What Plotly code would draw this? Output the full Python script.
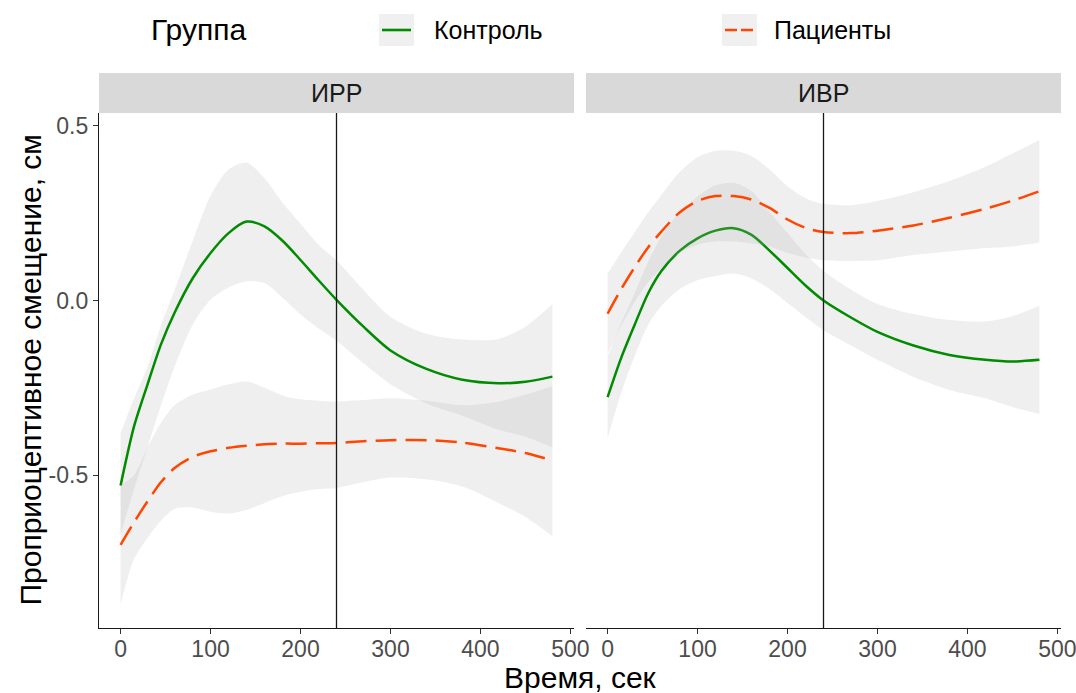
import plotly.graph_objects as go

# ---------------- data ----------------
time_sec = [0, 15, 30, 45, 60, 80, 100, 120, 140, 160, 180, 200, 220, 240,
            270, 300, 340, 380, 420, 450, 480]

panel_names = ["ИРР", "ИВР"]
group_names = ["Контроль", "Пациенты"]

# Panel ИРР, group Контроль
irr_ctrl_mean = [-0.53, -0.36, -0.24, -0.125, -0.035, 0.063, 0.136, 0.193, 0.226, 0.212,
                 0.171, 0.116, 0.058, 0.002, -0.075, -0.143, -0.196, -0.227, -0.237, -0.233, -0.218]
irr_ctrl_upper = [-0.38, -0.28, -0.19, -0.07, 0.03, 0.17, 0.30, 0.375, 0.395, 0.35,
                  0.28, 0.22, 0.16, 0.115, 0.03, -0.047, -0.095, -0.112, -0.11, -0.075, -0.01]
irr_ctrl_lower = [-0.67, -0.54, -0.42, -0.30, -0.19, -0.07, 0.002, 0.037, 0.055, 0.05,
                  0.008, -0.04, -0.08, -0.115, -0.18, -0.24, -0.295, -0.33, -0.37, -0.39, -0.42]

# Panel ИРР, group Пациенты
irr_pat_mean = [-0.70, -0.635, -0.575, -0.52, -0.48, -0.448, -0.432, -0.422, -0.416, -0.412,
                -0.41, -0.41, -0.409, -0.408, -0.403, -0.40, -0.40, -0.407, -0.423, -0.437, -0.458]
irr_pat_upper = [-0.53, -0.50, -0.42, -0.35, -0.30, -0.27, -0.255, -0.24, -0.232, -0.25,
                 -0.272, -0.283, -0.287, -0.289, -0.285, -0.28, -0.287, -0.30, -0.29, -0.27, -0.245]
irr_pat_lower = [-0.87, -0.74, -0.68, -0.63, -0.597, -0.593, -0.605, -0.61, -0.60, -0.58,
                 -0.56, -0.548, -0.54, -0.537, -0.52, -0.507, -0.512, -0.533, -0.58, -0.62, -0.675]

# Panel ИВР, group Контроль
ivr_ctrl_mean = [-0.277, -0.165, -0.07, 0.02, 0.085, 0.142, 0.178, 0.20, 0.207, 0.188,
                 0.143, 0.093, 0.043, 0.0, -0.048, -0.09, -0.129, -0.156, -0.17, -0.175, -0.17]
ivr_ctrl_upper = [-0.16, -0.065, 0.02, 0.11, 0.185, 0.252, 0.298, 0.33, 0.337, 0.313,
                  0.253, 0.193, 0.133, 0.085, 0.032, -0.01, -0.039, -0.056, -0.06, -0.045, -0.015]
ivr_ctrl_lower = [-0.394, -0.265, -0.16, -0.07, -0.015, 0.032, 0.058, 0.07, 0.077, 0.063,
                  0.033, -0.007, -0.047, -0.085, -0.128, -0.17, -0.219, -0.256, -0.28, -0.305, -0.325]

# Panel ИВР, group Пациенты
ivr_pat_mean = [-0.038, 0.032, 0.095, 0.152, 0.198, 0.252, 0.285, 0.299, 0.299, 0.289,
                0.265, 0.232, 0.208, 0.196, 0.193, 0.20, 0.215, 0.237, 0.263, 0.286, 0.313]
ivr_pat_upper = [0.077, 0.137, 0.195, 0.252, 0.303, 0.367, 0.41, 0.429, 0.429, 0.414,
                 0.375, 0.327, 0.293, 0.277, 0.273, 0.285, 0.31, 0.342, 0.383, 0.421, 0.46]
ivr_pat_lower = [-0.153, -0.073, -0.005, 0.052, 0.093, 0.137, 0.16, 0.169, 0.169, 0.164,
                 0.155, 0.137, 0.123, 0.115, 0.113, 0.115, 0.13, 0.14, 0.15, 0.155, 0.166]

vline_time = 240
x_ticks = [0, 100, 200, 300, 400, 500]
y_ticks = [-0.5, 0.0, 0.5]
y_ticklabels = ["-0.5", "0.0", "0.5"]

# ---------------- styling ----------------
W, H = 1076, 693
FONT = "Liberation Sans, Arial, sans-serif"
col_ctrl = "#008B00"
col_pat = "#FF4500"
ribbon = "rgba(175,175,175,0.2)"
TICK_SIZE = 23
TITLE_SIZE = 30
STRIP_SIZE = 25
LEG_TEXT_SIZE = 25


def px_x(p):
    return p / W


def px_y(p):
    return 1 - p / H


panels_px = [(99, 574), (586, 1061)]
panel_top, panel_bottom = 113, 628
strip_top = 73

fig = go.Figure()

series = [
    ("x", "y", irr_ctrl_mean, irr_ctrl_lower, irr_ctrl_upper,
     irr_pat_mean, irr_pat_lower, irr_pat_upper),
    ("x2", "y2", ivr_ctrl_mean, ivr_ctrl_lower, ivr_ctrl_upper,
     ivr_pat_mean, ivr_pat_lower, ivr_pat_upper),
]

for xa, ya, cm, cl, cu, pm, pl, pu in series:
    for mean, lo, up, col, dash, name in [(cm, cl, cu, col_ctrl, "solid", group_names[0]),
                                          (pm, pl, pu, col_pat, "21px,9px", group_names[1])]:
        fig.add_trace(go.Scatter(x=time_sec, y=lo, xaxis=xa, yaxis=ya, mode="lines",
                                 line=dict(width=0, shape="spline", smoothing=0.8),
                                 showlegend=False, hoverinfo="skip"))
        fig.add_trace(go.Scatter(x=time_sec, y=up, xaxis=xa, yaxis=ya, mode="lines",
                                 line=dict(width=0, shape="spline", smoothing=0.8),
                                 fill="tonexty", fillcolor=ribbon,
                                 showlegend=False, hoverinfo="skip"))
        fig.add_trace(go.Scatter(x=time_sec, y=mean, xaxis=xa, yaxis=ya, mode="lines",
                                 line=dict(color=col, width=2.5, dash=dash,
                                           shape="spline", smoothing=0.8),
                                 name=name, showlegend=False))

xr = [-24, 504]
yr = [-0.938, 0.537]
common_x = dict(range=xr, tickvals=x_ticks, ticks="outside", ticklen=5, tickwidth=1.1,
                tickcolor="#333333", showline=True, linecolor="#1a1a1a", linewidth=1.3,
                showgrid=False, zeroline=False, ticklabelstandoff=-5, automargin=False,
                ticklabeloverflow="allow",
                tickfont=dict(family=FONT, size=TICK_SIZE, color="#4D4D4D"))
fig.update_layout(
    width=W, height=H, autosize=False,
    margin=dict(l=0, r=0, t=0, b=0, pad=0),
    paper_bgcolor="white", plot_bgcolor="white",
    showlegend=False,
    xaxis=dict(domain=[px_x(panels_px[0][0]), px_x(panels_px[0][1])], anchor="y", **common_x),
    xaxis2=dict(domain=[px_x(panels_px[1][0]), px_x(panels_px[1][1])], anchor="y2", **common_x),
    yaxis=dict(domain=[px_y(panel_bottom), px_y(panel_top)], anchor="x", range=yr,
               tickvals=y_ticks, ticktext=y_ticklabels, ticks="outside", ticklen=5,
               tickwidth=1.1, tickcolor="#333333", showline=True, linecolor="#1a1a1a",
               linewidth=1.3, showgrid=False, zeroline=False, automargin=False,
               ticklabeloverflow="allow",
               tickfont=dict(family=FONT, size=TICK_SIZE, color="#4D4D4D")),
    yaxis2=dict(domain=[px_y(panel_bottom), px_y(panel_top)], anchor="x2", range=yr,
                showticklabels=False, ticks="", showline=False, showgrid=False,
                zeroline=False, automargin=False),
)

shapes = []
annotations = []
for i, (x0, x1) in enumerate(panels_px):
    # strip
    shapes.append(dict(type="rect", xref="paper", yref="paper", x0=px_x(x0), x1=px_x(x1),
                       y0=px_y(panel_top), y1=px_y(strip_top), fillcolor="#D9D9D9",
                       line=dict(width=0), layer="below"))
    annotations.append(dict(xref="paper", yref="paper", x=px_x((x0 + x1) / 2),
                            y=px_y((panel_top + strip_top) / 2), text=panel_names[i],
                            showarrow=False, xanchor="center", yanchor="middle",
                            font=dict(family=FONT, size=STRIP_SIZE, color="#1A1A1A")))
    # vertical reference line
    xa = "x" if i == 0 else "x2"
    ya = "y domain" if i == 0 else "y2 domain"
    shapes.append(dict(type="line", xref=xa, yref=ya, x0=vline_time, x1=vline_time,
                       y0=0, y1=1, line=dict(color="#1a1a1a", width=1.3), layer="above"))

# axis titles
annotations.append(dict(xref="paper", yref="paper", x=px_x((99 + 1061) / 2), y=px_y(677),
                        text="Время, сек", showarrow=False, xanchor="center", yanchor="middle",
                        font=dict(family=FONT, size=TITLE_SIZE, color="black")))
annotations.append(dict(xref="paper", yref="paper", x=px_x(30), y=px_y((panel_top + panel_bottom) / 2),
                        text="Проприоцептивное смещение, см", showarrow=False, textangle=-90,
                        xanchor="center", yanchor="middle",
                        font=dict(family=FONT, size=TITLE_SIZE, color="black")))

# legend (drawn in the ggplot style: title, key boxes, labels)
leg_y = 30
annotations.append(dict(xref="paper", yref="paper", x=px_x(149), y=px_y(leg_y),
                        text="Группа", showarrow=False, xanchor="left", yanchor="middle",
                        font=dict(family=FONT, size=TITLE_SIZE, color="black")))
for key_left, text_left, col, dash, name in [(379, 432, col_ctrl, "solid", group_names[0]),
                                             (722, 772, col_pat, "dash", group_names[1])]:
    shapes.append(dict(type="rect", xref="paper", yref="paper", x0=px_x(key_left),
                       x1=px_x(key_left + 35), y0=px_y(leg_y + 16), y1=px_y(leg_y - 16),
                       fillcolor="#F0F0F0", line=dict(width=0)))
    shapes.append(dict(type="line", xref="paper", yref="paper", x0=px_x(key_left + 3),
                       x1=px_x(key_left + 32), y0=px_y(leg_y), y1=px_y(leg_y),
                       line=dict(color=col, width=2.6, dash="solid" if dash == "solid" else "12px,4px")))
    annotations.append(dict(xref="paper", yref="paper", x=px_x(text_left), y=px_y(leg_y),
                            text=name, showarrow=False, xanchor="left", yanchor="middle",
                            font=dict(family=FONT, size=LEG_TEXT_SIZE, color="black")))

fig.update_layout(shapes=shapes, annotations=annotations)
fig.write_html(
    "out.html",
    config={"displayModeBar": False},
    post_script=("document.body.style.margin='0';"
                 "document.body.style.overflow='hidden';"),
)
